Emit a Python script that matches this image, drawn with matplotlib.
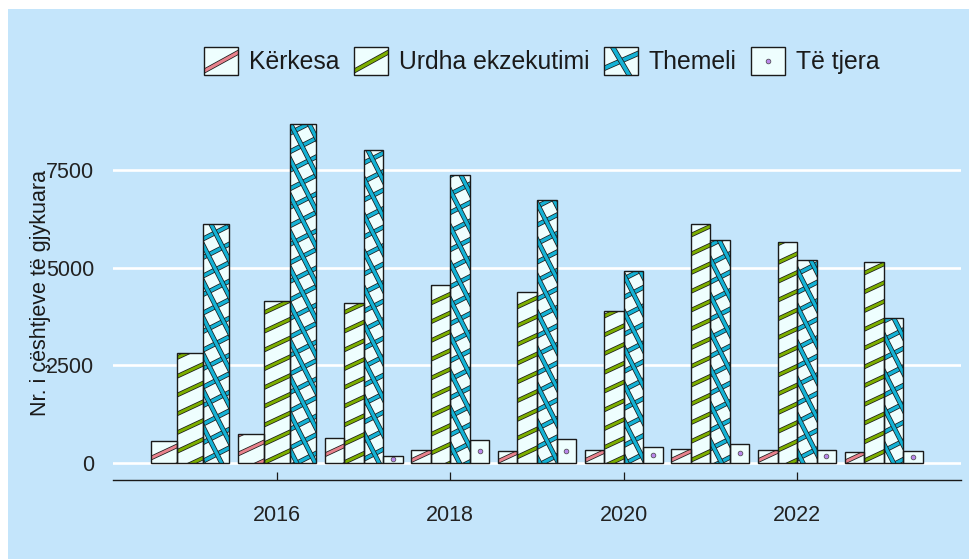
import numpy as np
import matplotlib
matplotlib.use('Agg')
import matplotlib.pyplot as plt
from matplotlib.patches import Rectangle
from matplotlib.lines import Line2D
from matplotlib.collections import LineCollection
from matplotlib.legend_handler import HandlerBase

plt.rcParams['font.family'] = ['Liberation Sans', 'DejaVu Sans']

# data
years = [2015, 2016, 2017, 2018, 2019, 2020, 2021, 2022, 2023]
kerkesa = [545, 742, 622, 333, 290, 333, 358, 333, 264]
urdha = [2808, 4147, 4078, 4557, 4370, 3891, 6118, 5666, 5137]
themeli = [6110, 8678, 8013, 7373, 6733, 4923, 5709, 5180, 3703]
te_tjera = [None, None, 180, 589, 600, 402, 478, 333, 289]

labels = ['Kërkesa', 'Urdha ekzekutimi', 'Themeli', 'Të tjera']
series = [kerkesa, urdha, themeli, te_tjera]
colors = ['#E8828D', '#7CAE00', '#14B2D5', '#B987EA']
kinds = ['stripe', 'stripe', 'cross', 'dots']

bg = '#C4E5FB'
bar_fill = '#EEFEFE'
ink = '#1a1a1a'

fig = plt.figure(figsize=(9.7, 5.59), dpi=100)
fig.patch.set_facecolor('white')
fig.add_artist(Rectangle((8/970, 0), 1, 1 - 9/559, transform=fig.transFigure,
                         facecolor=bg, edgecolor='none', zorder=-5))
ax = fig.add_axes([113/970, 1 - 479.5/559, 848/970, 372.5/559])
ax.set_facecolor(bg)

ax.set_xlim(2014.11, 2023.89)
ax.set_ylim(-434, 9114)

# dodge like ggplot: missing categories widen the others
xs = [[] for _ in series]
hs = [[] for _ in series]
ws = [[] for _ in series]
for i, yr in enumerate(years):
    present = [k for k, s in enumerate(series) if s[i] is not None]
    w = 0.9 / len(present)
    for j, k in enumerate(present):
        xs[k].append(yr - 0.45 + w * (j + 0.5))
        hs[k].append(series[k][i])
        ws[k].append(w)


def stripes(bar, angle, spacing, color, lw):
    # parallel bands in pixel space, clipped to the bar
    (x0, y0), (x1, y1) = ax.transData.transform(
        [(bar.get_x(), bar.get_y()),
         (bar.get_x() + bar.get_width(), bar.get_y() + bar.get_height())])
    cx, cy = (x0 + x1) / 2, (y0 + y1) / 2
    r = np.hypot(x1 - x0, y1 - y0) / 2 + spacing
    t = np.radians(angle)
    d = np.array([np.cos(t), np.sin(t)])
    nrm = np.array([-np.sin(t), np.cos(t)])
    n = int(np.ceil(r / spacing))
    segs = []
    for k in range(-n, n + 1):
        c = np.array([cx, cy]) + k * spacing * nrm
        segs.append([c - r * d, c + r * d])
    segs = ax.transAxes.inverted().transform(np.array(segs).reshape(-1, 2)).reshape(-1, 2, 2)
    for c, w in ((ink, lw + 1.1), (color, lw)):
        lc = LineCollection(segs, colors=c, linewidths=w, transform=ax.transAxes,
                            zorder=2.5, capstyle='butt')
        ax.add_collection(lc, autolim=False)
        lc.set_clip_path(bar)


for k in range(4):
    bars = ax.bar(xs[k], hs[k], width=ws[k], color=bar_fill, edgecolor='none', zorder=2)
    for b in bars:
        if kinds[k] == 'stripe':
            stripes(b, 25, 17, colors[k], 2.1)
        elif kinds[k] == 'cross':
            stripes(b, 27, 16.5, colors[k], 2.4)
            stripes(b, 117, 16.5, colors[k], 2.4)
        else:
            ax.plot(b.get_x() + b.get_width() / 2, b.get_height() / 2, 'o', ms=3.4,
                    mfc=colors[k], mec='#444444', mew=0.5, zorder=2.6)
    ax.bar(xs[k], hs[k], width=ws[k], color='none', edgecolor=ink, linewidth=1.0, zorder=3)


class KeyHandler(HandlerBase):
    def __init__(self, kind, color):
        super().__init__()
        self.kind = kind
        self.color = color

    def create_artists(self, legend, orig_handle, xdescent, ydescent, width, height, fontsize, trans):
        x0, y0 = -xdescent, -ydescent
        box = Rectangle((x0, y0), width, height, facecolor=bar_fill, edgecolor='none', transform=trans)
        arts = [box]
        if self.kind == 'dots':
            arts.append(Line2D([x0 + width / 2], [y0 + height / 2], marker='o', ms=3.4,
                               mfc=self.color, mec='#444444', mew=0.5, transform=trans))
        else:
            lines = [[(x0 - 2, y0 + 0.1 * height), (x0 + width + 2, y0 + 0.85 * height)]]
            lw = 2.3
            if self.kind == 'cross':
                lines = [[(x0 - 2, y0 + 0.2 * height), (x0 + width + 2, y0 + 0.8 * height)],
                         [(x0 + 0.2 * width, y0 + height + 2), (x0 + 0.8 * width, y0 - 2)]]
                lw = 2.7
            for pts in lines:
                for c, w in ((ink, lw + 1.1), (self.color, lw)):
                    ln = Line2D([p[0] for p in pts], [p[1] for p in pts], color=c, lw=w,
                                solid_capstyle='butt', transform=trans)
                    ln.set_clip_path(box)
                    arts.append(ln)
        arts.append(Rectangle((x0, y0), width, height, facecolor='none', edgecolor=ink,
                              lw=1.0, transform=trans))
        return arts


handles = [Rectangle((0, 0), 1, 1) for _ in labels]
hmap = {h: KeyHandler(kinds[k], colors[k]) for k, h in enumerate(handles)}
fig.legend(handles, labels, handler_map=hmap, loc='center', bbox_to_anchor=(542/970, 1 - 61/559),
           ncol=4, frameon=False, fontsize=17.8, handlelength=1.35, handleheight=1.4,
           handletextpad=0.45, columnspacing=0.6, labelcolor=ink)

ax.set_yticks([0, 2500, 5000, 7500])
ax.set_xticks([2016, 2018, 2020, 2022])
ax.grid(axis='y', color='white', linewidth=1.9)
ax.set_axisbelow(True)
for s in ['top', 'right', 'left']:
    ax.spines[s].set_visible(False)
ax.spines['bottom'].set_linewidth(1.0)
ax.spines['bottom'].set_color(ink)
ax.tick_params(axis='y', length=0, pad=13.5, labelsize=15.5, labelcolor='#222222')
ax.tick_params(axis='x', direction='in', length=6, width=0.9, color=ink, pad=18.5,
               labelsize=15.5, labelcolor='#222222')

ax.set_ylabel('Nr. i çështjeve të gjykuara', fontsize=15.5, color=ink)
ax.yaxis.set_label_coords(-0.073, 0.5)

plt.savefig('out.png', dpi=100, facecolor=fig.get_facecolor())
